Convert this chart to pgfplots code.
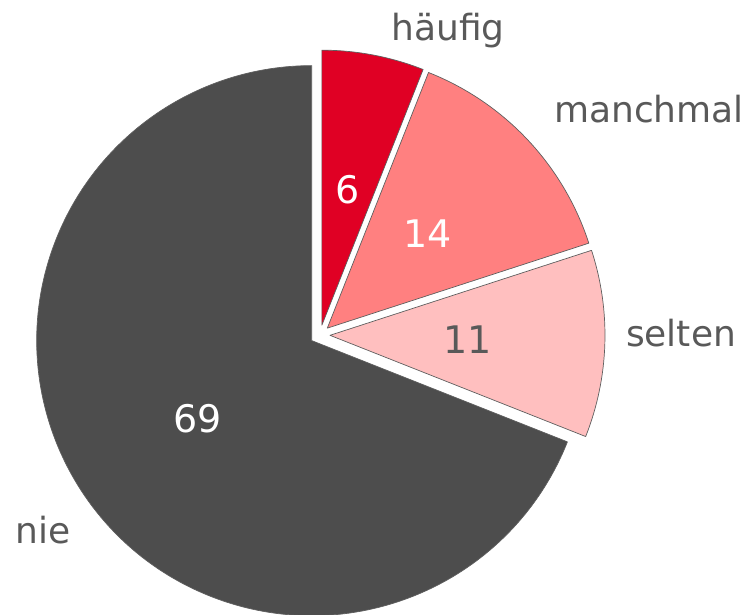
\documentclass[border=0pt]{standalone}
\usepackage{fontspec}
\setmainfont{DejaVu Sans}
\usepackage{pgfplots}
\pgfplotsset{compat=1.18}
\definecolor{cH}{RGB}{224,0,36}
\definecolor{cM}{RGB}{255,128,128}
\definecolor{cS}{RGB}{255,191,191}
\definecolor{cN}{RGB}{77,77,77}
\definecolor{txt}{RGB}{89,89,89}
\definecolor{edge}{RGB}{95,95,95}
% #1 cumulative share before the slice, #2 share, #3 fill, #4 value text colour
\newcommand\pieslice[4]{%
  \pgfmathsetmacro\sa{90-3.6*#1}%
  \pgfmathsetmacro\ea{90-3.6*(#1+#2)}%
  \pgfmathsetmacro\ma{(\sa+\ea)/2}%
  \pgfmathsetmacro\px{320+10*cos(\ma)}%
  \pgfmathsetmacro\py{279+10*sin(\ma)}%
  \filldraw[fill=#3, draw=edge, line width=0.7pt, line join=round]
    (axis cs:\px,\py) -- ++(\sa:275pt)
    arc[start angle=\sa, end angle=\ea, radius=275pt] -- cycle;
  \path (axis cs:\px,\py) ++(\ma:138pt)
    node[text=#4, font=\fontsize{38}{44}\selectfont] {#2};
}
\begin{document}
\begin{tikzpicture}
\begin{axis}[x=1pt, y=1pt, xmin=0, xmax=750, ymin=0, ymax=614,
  hide axis, scale only axis, clip mode=global]
\addplot[draw=none] coordinates {(0,0) (750,614)};
\pgfplotsextra{%
  \pieslice{0}{6}{cH}{white}%
  \pieslice{6}{14}{cM}{white}%
  \pieslice{20}{11}{cS}{txt}%
  \pieslice{31}{69}{cN}{white}%
}
\node[anchor=base, text=txt, font=\fontsize{36}{40}\selectfont] at (axis cs:448,573) {häufig};
\node[anchor=base, text=txt, font=\fontsize{36}{40}\selectfont] at (axis cs:649,491) {manchmal};
\node[anchor=base, text=txt, font=\fontsize{36}{40}\selectfont] at (axis cs:681,267) {selten};
\node[anchor=base, text=txt, font=\fontsize{36}{40}\selectfont] at (axis cs:43,71) {nie};
\end{axis}
\end{tikzpicture}
\end{document}
